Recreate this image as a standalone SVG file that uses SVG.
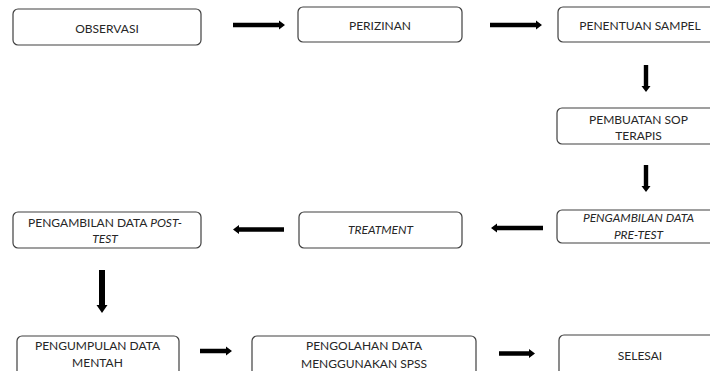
<svg xmlns="http://www.w3.org/2000/svg" width="710" height="371" viewBox="0 0 710 371">
<style>
.box{fill:#ffffff;stroke:#404040;stroke-width:1.2}
.t{font-family:Lato,"Open Sans","Liberation Sans",sans-serif;font-size:12px;fill:#262626;text-anchor:middle}
.i{font-style:italic}
.arr{fill:#000000}
</style>
<rect width="710" height="371" fill="#ffffff"/>
<g id="observasi"><rect class="box" x="13" y="9" width="188" height="36" rx="5"/><text class="t" x="107" y="32.5">OBSERVASI</text></g>
<g id="perizinan"><rect class="box" x="298" y="7" width="164" height="35" rx="5"/><text class="t" x="380" y="30">PERIZINAN</text></g>
<g id="penentuan-sampel"><rect class="box" x="558" y="7" width="164" height="35" rx="5"/><text class="t" x="640" y="30">PENENTUAN SAMPEL</text></g>
<g id="pembuatan-sop"><rect class="box" x="557" y="108" width="165" height="36" rx="5"/><text class="t" x="638.5" y="124">PEMBUATAN SOP</text><text class="t" x="638.5" y="140">TERAPIS</text></g>
<g id="pre-test"><rect class="box" x="557" y="210" width="165" height="33" rx="5"/><text class="t i" x="638.5" y="222">PENGAMBILAN DATA</text><text class="t i" x="638.5" y="238.5">PRE-TEST</text></g>
<g id="treatment"><rect class="box" x="299" y="212" width="163" height="36" rx="5"/><text class="t i" x="380.5" y="233.5">TREATMENT</text></g>
<g id="post-test"><rect class="box" x="13" y="212" width="188" height="36" rx="5"/><text class="t" x="105" y="227">PENGAMBILAN DATA <tspan class="i">POST-</tspan></text><text class="t i" x="105" y="243">TEST</text></g>
<g id="pengumpulan"><rect class="box" x="17" y="336" width="162" height="45" rx="5"/><text class="t" x="97.5" y="350">PENGUMPULAN DATA</text><text class="t" x="97.5" y="367">MENTAH</text></g>
<g id="pengolahan"><rect class="box" x="252" y="336" width="224" height="45" rx="5"/><text class="t" x="364" y="350">PENGOLAHAN DATA</text><text class="t" x="364" y="367.5">MENGGUNAKAN SPSS</text></g>
<g id="selesai"><rect class="box" x="559" y="335" width="163" height="45" rx="5"/><text class="t" x="640" y="360">SELESAI</text></g>
<g id="connectors">
<polygon class="arr" points="233,22.8 279,22.8 279,20.5 285,25 279,29.5 279,27.2 233,27.2"/>
<polygon class="arr" points="490,22.8 536,22.8 536,20.5 542,25 536,29.5 536,27.2 490,27.2"/>
<polygon class="arr" points="643.8,65 648.2,65 648.2,86 650.5,86 646,92 641.5,86 643.8,86"/>
<polygon class="arr" points="643.8,165 648.2,165 648.2,186 650.5,186 646,192 641.5,186 643.8,186"/>
<polygon class="arr" points="543,225.8 497,225.8 497,223.5 491,228 497,232.5 497,230.2 543,230.2"/>
<polygon class="arr" points="284,227.3 239,227.3 239,225 233,229.5 239,234 239,231.7 284,231.7"/>
<polygon class="arr" points="99,270 105,270 105,305 107.5,305 102,313 96.5,305 99,305"/>
<polygon class="arr" points="200,348.8 226,348.8 226,346.5 232,351 226,355.5 226,353.2 200,353.2"/>
<polygon class="arr" points="499,351.3 529,351.3 529,349 535,353.5 529,358 529,355.7 499,355.7"/>
</g>
</svg>
